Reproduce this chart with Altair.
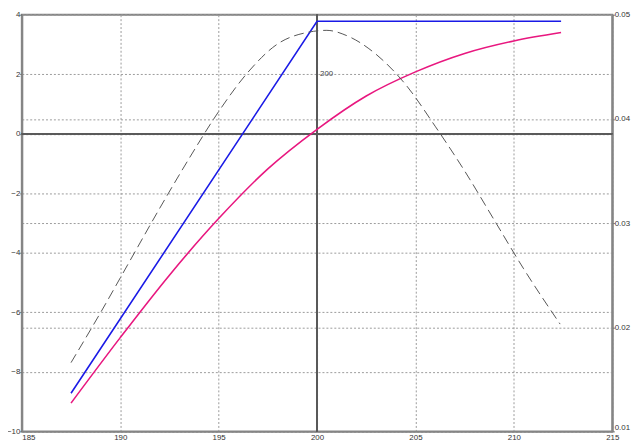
import altair as alt
import pandas as pd

# ---- data ----
blue_x = [187.5, 200.0, 212.4]
blue_y = [-8.72, 3.78, 3.78]

pink_x = [187.5, 190.0, 192.5, 195.0, 197.5, 200.0, 202.5, 205.0, 207.5, 210.0, 212.4]
pink_y = [-9.05, -6.85, -4.75, -2.85, -1.18, 0.15, 1.27, 2.08, 2.7, 3.12, 3.40]

dash_x = [187.5, 189.0, 190.5, 192.0, 193.5, 195.0, 196.5, 198.0, 199.5, 200.5,
          201.5, 203.0, 204.5, 206.0, 207.5, 209.0, 210.5, 212.35]
dash_y = [0.0166, 0.0214, 0.0264, 0.0314, 0.0362, 0.0407, 0.0445, 0.0472, 0.0483, 0.0485,
          0.0480, 0.0462, 0.0433, 0.0393, 0.0350, 0.0303, 0.0256, 0.0203]

x_ticks = [185, 190, 195, 200, 205, 210, 215]
left_ticks = [-10, -8, -6, -4, -2, 0, 2, 4]
right_ticks = [0.01, 0.02, 0.03, 0.04, 0.05]
marker_x = 200
marker_label = "200"

blue = pd.DataFrame({"x": blue_x, "y": blue_y})
pink = pd.DataFrame({"x": pink_x, "y": pink_y})
dash = pd.DataFrame({"x": dash_x, "y": dash_y})

FONT = "Liberation Sans"
GRID = dict(grid=True, gridDash=[2, 2], gridColor="#9a9a9a", gridWidth=1)

xscale = alt.Scale(domain=[185, 215], nice=False, zero=False)
xaxis = alt.Axis(values=x_ticks, title=None, ticks=False, labelPadding=2,
                 labelAlign={"expr": "datum.value == 185 ? 'left' : 'center'"},
                 **GRID)
lscale = alt.Scale(domain=[-10, 4], nice=False, zero=False)
laxis = alt.Axis(values=left_ticks, title=None, tickSize=2, labelPadding=0, **GRID)
rscale = alt.Scale(domain=[0.01, 0.05], nice=False, zero=False)
raxis = alt.Axis(values=right_ticks, title=None, orient="right", format=".2f",
                 tickSize=2, labelPadding=0,
                 labelBaseline={"expr": "datum.value < 0.015 ? 'bottom' : 'middle'"},
                 **GRID)

X = alt.X("x:Q", scale=xscale, axis=xaxis)

blue_line = alt.Chart(blue).mark_line(color="#1a1ae6", strokeWidth=1.6).encode(
    x=X, y=alt.Y("y:Q", scale=lscale, axis=laxis))
pink_line = alt.Chart(pink).mark_line(color="#e8177f", strokeWidth=1.6, interpolate="monotone").encode(
    x=X, y=alt.Y("y:Q", scale=lscale, axis=laxis))
zero_rule = alt.Chart(pink).mark_rule(color="#5a5a5a", strokeWidth=1).encode(y=alt.datum(0))
v_rule = alt.Chart(pink).mark_rule(color="#5a5a5a", strokeWidth=1).encode(x=alt.datum(marker_x))
label = alt.Chart(pd.DataFrame({"x": [marker_x], "y": [2], "t": [marker_label]})).mark_text(
    align="left", baseline="middle", dx=3, fontSize=8, font=FONT, color="#444444").encode(
    x=X, y=alt.Y("y:Q", scale=lscale, axis=laxis), text="t:N")

left = alt.layer(zero_rule, v_rule, label, blue_line, pink_line)

dash_line = alt.Chart(dash).mark_line(color="#555555", strokeWidth=1, strokeDash=[10, 5],
                                      interpolate="monotone").encode(
    x=X, y=alt.Y("y:Q", scale=rscale, axis=raxis))

chart = alt.layer(left, dash_line).resolve_scale(y="independent").properties(
    width=598, height=422,
    autosize=alt.AutoSizeParams(type="none"),
    padding={"left": 14, "top": 4, "right": 20, "bottom": 12},
    background="white",
).configure_view(
    stroke="#858585", strokeWidth=2
).configure_axis(
    labelFont=FONT, labelFontSize=8, labelColor="#333333",
    domainColor="#858585", domainWidth=2, tickColor="#555555",
)

chart.save("out.html", embed_options={"renderer": "svg", "actions": False})
